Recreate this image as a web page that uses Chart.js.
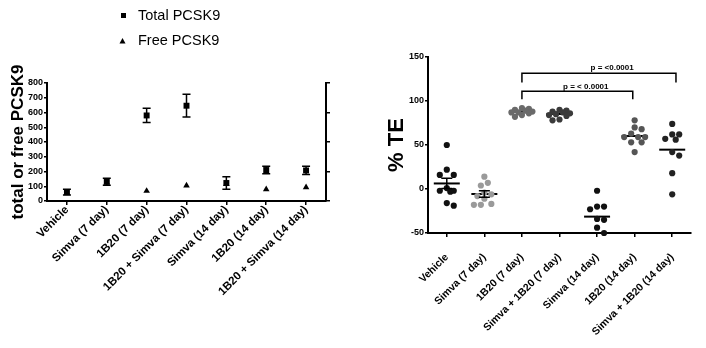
<!DOCTYPE html>
<html><head><meta charset="utf-8">
<script src="https://cdn.jsdelivr.net/npm/chart.js@4.4.1/dist/chart.umd.min.js"></script>
<style>
html,body{margin:0;padding:0;background:#fff;}
#wrap{position:relative;width:706px;height:348px;overflow:hidden;}
#c1{position:absolute;left:0;top:0;}
#c2{position:absolute;left:355px;top:0;}
</style></head><body>
<div id="wrap">
<canvas id="c1" width="345" height="348"></canvas>
<canvas id="c2" width="351" height="348"></canvas>
</div>
<script>
// ---------- Left chart data ----------
const leftCategories = ['Vehicle','Simva (7 day)','1B20 (7 day)','1B20 + Simva (7 day)','Simva (14 day)','1B20 (14 day)','1B20 + Simva (14 day)'];
const totalPCSK9    = [60, 130, 580, 646, 122, 210, 207];
const totalPCSK9Err = [19, 24, 48, 77, 42, 25, 28];
const freePCSK9     = [55, 125, 68, 104, 115, 79, 93];
const leftYMin = 0, leftYMax = 800, leftYStep = 100;
const legendLabels = ['Total PCSK9', 'Free PCSK9'];
const leftTitle = 'total or free PCSK9';

// ---------- Right chart data ----------
const rightCategories = ['Vehicle','Simva (7 day)','1B20 (7 day)','Simva + 1B20 (7 day)','Simva (14 day)','1B20 (14 day)','Simva + 1B20 (14 day)'];
const teVehicle      = [50, 22, 16, 16, 1, -2, -3, -2, -19, -16];
const teSimva7       = [14, 7, 4, -4, -6, -8, -11, -17, -18, -18];
const te1B20_7       = [92, 91, 90, 89, 88, 87, 87, 86, 84, 82];
const teSimva1B20_7  = [90, 89, 88, 87, 86, 85, 84, 83, 79, 78];
const teSimva14      = [-2, -20, -20, -23, -34, -35, -44, -50];
const te1B20_14      = [78, 70, 68, 63, 59, 59, 59, 53, 53, 42];
const teSimva1B20_14 = [74, 62, 62, 57, 56, 42, 38, 18, -6];
const teMeans        = [6.3, -5.7, 87.9, 85.2, -31.4, 60.2, 44.7];
const teSem          = [5.8, 3.6, null, null, null, null, null];
const rightYMin = -50, rightYMax = 150, rightYStep = 50;
const rightTitle = '% TE';
const brackets = [
  {from: 2, to: 6.1, top: 131.5, bottom: 121, label: 'p = <0.0001', labelX: 4.4},
  {from: 2, to: 4.95, top: 111, bottom: 102, label: 'p = < 0.0001', labelX: 3.7}
];

// ---------- styles ----------
const FONT = "'Liberation Sans', Arial, Helvetica, sans-serif";
Chart.defaults.font.family = FONT;
Chart.defaults.color = '#000';
const groupColors = ['#111', '#9a9a9a', '#6a6a6a', '#3a3a3a', '#111', '#555', '#222'];

// ---------- Left chart ----------
const leftErrPlugin = {
  id: 'leftErr',
  afterDatasetsDraw(chart) {
    const {ctx, scales: {x, y}} = chart;
    ctx.save();
    ctx.strokeStyle = '#000';
    ctx.lineWidth = 1.5;
    totalPCSK9.forEach((v, i) => {
      const e = totalPCSK9Err[i];
      const px = x.getPixelForValue(i);
      const t = y.getPixelForValue(v + e), b = y.getPixelForValue(v - e);
      ctx.beginPath();
      ctx.moveTo(px, t); ctx.lineTo(px, b);
      ctx.moveTo(px - 4, t); ctx.lineTo(px + 4, t);
      ctx.moveTo(px - 4, b); ctx.lineTo(px + 4, b);
      ctx.stroke();
    });
    ctx.restore();
  }
};
const leftLegendPlugin = {
  id: 'leftLegend',
  afterDraw(chart) {
    const ctx = chart.ctx;
    ctx.save();
    ctx.fillStyle = '#000';
    ctx.font = '14.5px ' + FONT;
    ctx.textBaseline = 'middle';
    ctx.textAlign = 'left';
    ctx.fillRect(121, 13, 5, 5);
    ctx.fillText(legendLabels[0], 138, 16);
    ctx.beginPath();
    ctx.moveTo(122.5, 38); ctx.lineTo(125.5, 43.5); ctx.lineTo(119.5, 43.5); ctx.closePath();
    ctx.fill();
    ctx.fillText(legendLabels[1], 138, 41);
    ctx.restore();
  }
};

new Chart(document.getElementById('c1'), {
  type: 'line',
  data: {
    labels: leftCategories,
    datasets: [
      {label: legendLabels[0], data: totalPCSK9, showLine: false, pointStyle: 'rect', pointRadius: 4.2,
       backgroundColor: '#000', borderColor: '#000', borderWidth: 0, clip: false},
      {label: legendLabels[1], data: freePCSK9, showLine: false, pointStyle: 'triangle', pointRadius: 3.8,
       backgroundColor: '#000', borderColor: '#000', borderWidth: 0, clip: false}
    ]
  },
  options: {
    responsive: false, animation: false, devicePixelRatio: 1,
    layout: {padding: {top: 83, left: 0, right: 0, bottom: 0}},
    plugins: {legend: {display: false}, tooltip: {enabled: false}},
    scales: {
      x: {
        offset: true,
        grid: {drawOnChartArea: false, drawTicks: true, tickLength: 4, color: '#000', lineWidth: 1.5},
        border: {color: '#000', width: 2},
        ticks: {minRotation: 45, maxRotation: 45, autoSkip: false, padding: -2,
                font: {size: 11.5, weight: 'bold', family: FONT}},
        afterFit(s) { s.height = 147; }
      },
      y: {
        min: leftYMin, max: leftYMax,
        ticks: {stepSize: leftYStep, padding: 1, font: {size: 9, weight: 'bold', family: FONT}},
        grid: {drawOnChartArea: false, tickLength: 3, color: '#000', lineWidth: 1.5},
        border: {color: '#000', width: 2},
        title: {display: true, text: leftTitle, font: {size: 17, weight: 'bold', family: FONT}, padding: {top: 8, bottom: 0}},
        afterFit(s) { s.width = 47; }
      },
      y2: {
        position: 'right', min: leftYMin, max: leftYMax,
        ticks: {stepSize: 200, display: false},
        grid: {drawOnChartArea: false, tickLength: 4, color: '#000', lineWidth: 1.5},
        border: {color: '#000', width: 2},
        afterFit(s) { s.width = 19; }
      }
    }
  },
  plugins: [leftErrPlugin, leftLegendPlugin]
});

// ---------- Right chart ----------
// simple beeswarm spread (pixel-ish units) so points of one group do not pile up
const PX_PER_UNIT = 176 / 200, PX_PER_CAT = 37.7, STEP = 3.5, MIN_DIST = 6.6, MAX_OFF = 12.5;
function swarm(values, idx) {
  const placed = [];
  const order = values.map((v, i) => i).sort((a, b) => values[b] - values[a]);
  const out = new Array(values.length);
  for (const i of order) {
    const py = values[i] * PX_PER_UNIT;
    let best = 0, bestD = -1;
    for (let s = 0; s < 60; s++) {
      const cand = s === 0 ? 0 : (s % 2 ? 1 : -1) * Math.ceil(s / 2) * STEP;
      if (Math.abs(cand) > MAX_OFF) break;
      const d = placed.length ? Math.min(...placed.map(p => Math.hypot(p.px - cand, p.py - py))) : Infinity;
      if (d >= MIN_DIST) { best = cand; bestD = d; break; }
      if (d > bestD) { bestD = d; best = cand; }
    }
    placed.push({px: best, py});
    out[i] = {x: idx + best / PX_PER_CAT, y: values[i]};
  }
  return out;
}
const teGroups = [teVehicle, teSimva7, te1B20_7, teSimva1B20_7, teSimva14, te1B20_14, teSimva1B20_14];

const rightDatasets = teGroups.map((g, i) => ({
  type: 'scatter', label: rightCategories[i], data: swarm(g, i),
  pointRadius: 3.1, pointStyle: 'circle', backgroundColor: groupColors[i], borderColor: groupColors[i],
  borderWidth: 0, clip: false
}));
rightDatasets.push({
  type: 'scatter', label: 'mean', data: teMeans.map((m, i) => ({x: i, y: m})),
  pointStyle: 'line', pointRadius: 13, borderColor: '#000', backgroundColor: '#000', pointBorderWidth: 2, clip: false
});
brackets.forEach(b => {
  rightDatasets.push({
    type: 'line', label: b.label,
    data: [{x: b.from, y: b.bottom}, {x: b.from, y: b.top}, {x: b.to, y: b.top}, {x: b.to, y: b.bottom}],
    borderColor: '#000', borderWidth: 1.5, pointRadius: 0, fill: false, tension: 0, clip: false
  });
});

const rightExtrasPlugin = {
  id: 'rightExtras',
  afterDatasetsDraw(chart) {
    const {ctx, scales: {x, y}} = chart;
    ctx.save();
    ctx.strokeStyle = '#000';
    ctx.lineWidth = 1.5;
    teMeans.forEach((m, i) => {
      const s = teSem[i];
      if (s == null) return;
      const px = x.getPixelForValue(i);
      const t = y.getPixelForValue(m + s), b = y.getPixelForValue(m - s);
      ctx.beginPath();
      ctx.moveTo(px, t); ctx.lineTo(px, b);
      ctx.moveTo(px - 5.5, t); ctx.lineTo(px + 5.5, t);
      ctx.moveTo(px - 5.5, b); ctx.lineTo(px + 5.5, b);
      ctx.stroke();
    });
    ctx.fillStyle = '#000';
    ctx.font = 'bold 8px ' + FONT;
    ctx.textAlign = 'center';
    ctx.textBaseline = 'bottom';
    brackets.forEach(b => {
      ctx.fillText(b.label, x.getPixelForValue(b.labelX), y.getPixelForValue(b.top) - 1);
    });
    ctx.restore();
  }
};

new Chart(document.getElementById('c2'), {
  type: 'scatter',
  data: {datasets: rightDatasets},
  options: {
    responsive: false, animation: false, devicePixelRatio: 1,
    layout: {padding: {top: 57, left: 0, right: 14, bottom: 0}},
    plugins: {legend: {display: false}, tooltip: {enabled: false}},
    scales: {
      x: {
        type: 'linear', min: -0.5, max: 6.5,
        afterBuildTicks(s) { s.ticks = rightCategories.map((c, i) => ({value: i})); },
        ticks: {minRotation: 45, maxRotation: 45, autoSkip: false, padding: 14,
                callback: v => rightCategories[v], font: {size: 10.5, weight: 'bold', family: FONT}},
        grid: {drawOnChartArea: false, tickLength: 4, color: '#000', lineWidth: 1.5},
        border: {color: '#000', width: 2},
        afterFit(s) { s.height = 115; }
      },
      y: {
        min: rightYMin, max: rightYMax,
        ticks: {stepSize: rightYStep, padding: 1, font: {size: 9, weight: 'bold', family: FONT}},
        grid: {drawOnChartArea: false, tickLength: 3, color: '#000', lineWidth: 1.5},
        border: {color: '#000', width: 2},
        title: {display: true, text: rightTitle, font: {size: 22, weight: 'bold', family: FONT}, padding: {top: 29, bottom: 0}},
        afterFit(s) { s.width = 73; }
      }
    }
  },
  plugins: [rightExtrasPlugin]
});
</script>
</body></html>
